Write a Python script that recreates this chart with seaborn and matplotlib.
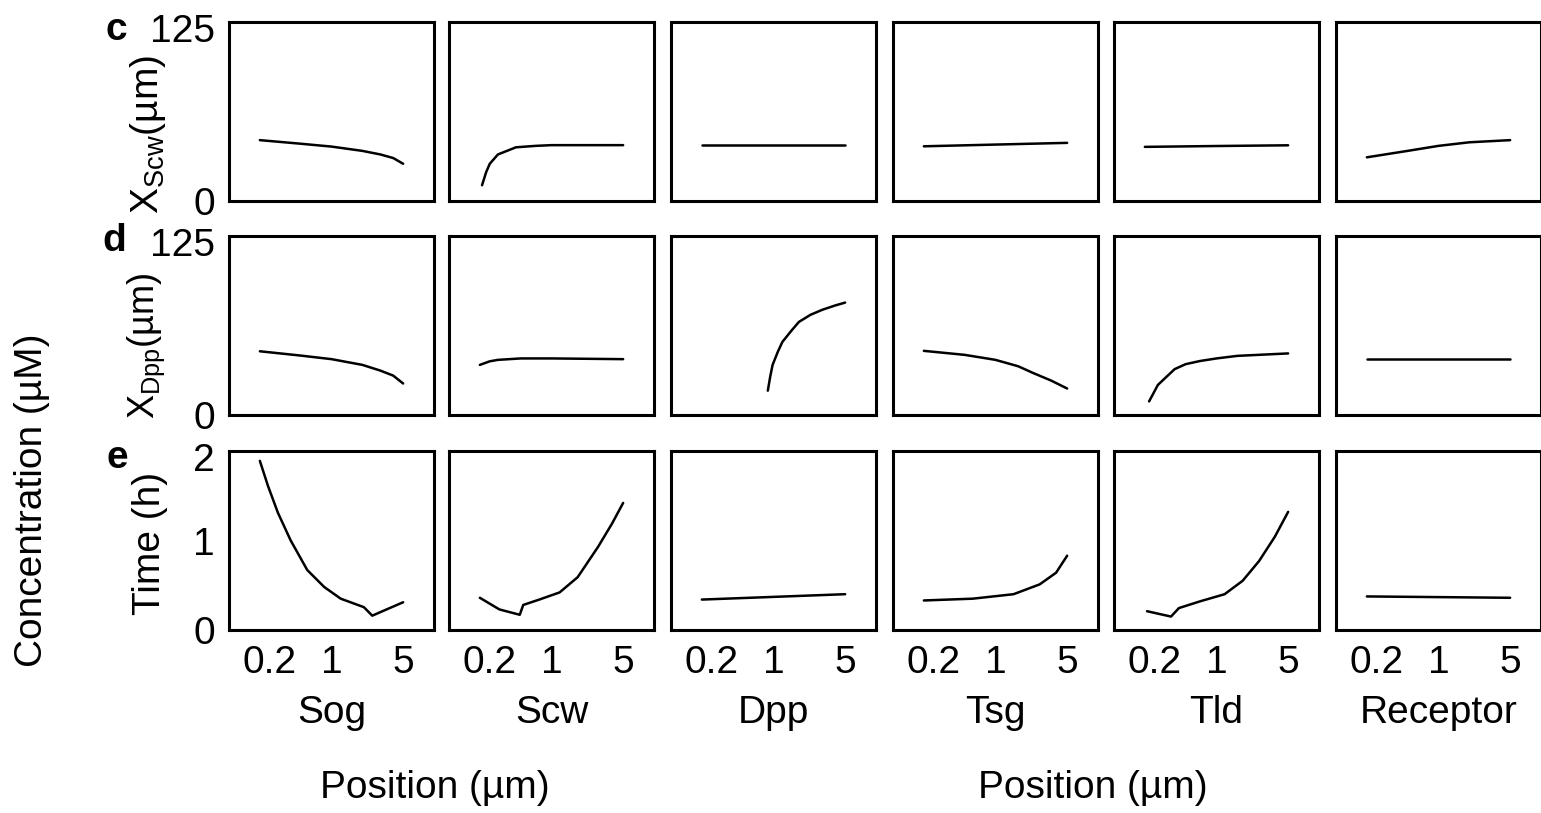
import matplotlib
matplotlib.use('Agg')
import seaborn as sns
from matplotlib import pyplot as plt
from matplotlib.ticker import NullLocator
from matplotlib.transforms import ScaledTranslation

proteins = ['Sog', 'Scw', 'Dpp', 'Tsg', 'Tld', 'Receptor']
row_letters = ['c', 'd', 'e']
row_labels = [r'X$_{\mathrm{Scw}}$(µm)', r'X$_{\mathrm{Dpp}}$(µm)', 'Time (h)']
x_ticks = [0.2, 1, 5]
x_ticklabels = ['0.2', '1', '5']

# row c: X_Scw (um) vs scaling factor
sog_c_x = [0.2, 0.5, 1, 2, 3, 4, 5]
sog_c_y = [42.5, 40, 38, 35, 32.5, 30, 26]
scw_c_x = [0.21, 0.23, 0.25, 0.3, 0.45, 0.7, 1, 2, 5]
scw_c_y = [11, 20, 26, 32.5, 37.5, 38.5, 39, 39, 39]
dpp_c_x = [0.2, 1, 5]
dpp_c_y = [39, 39, 39]
tsg_c_x = [0.2, 1, 5]
tsg_c_y = [38.2, 39.4, 40.6]
tld_c_x = [0.2, 1, 5]
tld_c_y = [37.8, 38.4, 38.9]
rec_c_x = [0.2, 0.5, 1, 2, 5]
rec_c_y = [30.5, 35, 38.5, 41, 42.5]

# row d: X_Dpp (um)
sog_d_x = [0.2, 0.5, 1, 2, 3, 4, 5]
sog_d_y = [44.5, 41.5, 39, 35, 31, 27.5, 22]
scw_d_x = [0.2, 0.25, 0.3, 0.5, 1, 5]
scw_d_y = [35, 37.5, 38.5, 39.5, 39.5, 39]
dpp_d_x = [0.88, 0.93, 0.98, 1.1, 1.22, 1.5, 1.77, 2.3, 3, 4, 5]
dpp_d_y = [17, 27, 35, 44, 51, 59, 65, 70, 73.5, 76.5, 78.5]
tsg_d_x = [0.2, 0.5, 1, 1.67, 2.3, 3.5, 5]
tsg_d_y = [44.8, 42, 38.5, 34, 29.5, 24, 18.5]
tld_d_x = [0.22, 0.268, 0.39, 0.5, 0.69, 1, 1.6, 5]
tld_d_y = [9.5, 21, 32, 35.5, 37.7, 39.5, 41.3, 43]
rec_d_x = [0.2, 5]
rec_d_y = [39, 39]

# row e: time (h)
sog_e_x = [0.2, 0.24, 0.3, 0.4, 0.58, 0.85, 1.23, 2.07, 2.5, 3, 5]
sog_e_y = [1.89, 1.61, 1.31, 1.0, 0.67, 0.48, 0.35, 0.255, 0.16, 0.2, 0.31]
scw_e_x = [0.2, 0.31, 0.49, 0.53, 0.76, 1.2, 1.8, 2.85, 3.9, 5]
scw_e_y = [0.36, 0.23, 0.17, 0.28, 0.34, 0.42, 0.59, 0.93, 1.19, 1.42]
dpp_e_x = [0.2, 5]
dpp_e_y = [0.34, 0.40]
tsg_e_x = [0.2, 0.6, 1.5, 2.7, 3.9, 5]
tsg_e_y = [0.33, 0.35, 0.40, 0.51, 0.64, 0.83]
tld_e_x = [0.21, 0.36, 0.43, 0.69, 1.2, 1.8, 2.6, 3.7, 5]
tld_e_y = [0.21, 0.15, 0.245, 0.32, 0.40, 0.55, 0.77, 1.04, 1.32]
rec_e_x = [0.2, 5]
rec_e_y = [0.375, 0.36]

curves = [
    [(sog_c_x, sog_c_y), (scw_c_x, scw_c_y), (dpp_c_x, dpp_c_y),
     (tsg_c_x, tsg_c_y), (tld_c_x, tld_c_y), (rec_c_x, rec_c_y)],
    [(sog_d_x, sog_d_y), (scw_d_x, scw_d_y), (dpp_d_x, dpp_d_y),
     (tsg_d_x, tsg_d_y), (tld_d_x, tld_d_y), (rec_d_x, rec_d_y)],
    [(sog_e_x, sog_e_y), (scw_e_x, scw_e_y), (dpp_e_x, dpp_e_y),
     (tsg_e_x, tsg_e_y), (tld_e_x, tld_e_y), (rec_e_x, rec_e_y)],
]
y_limits = [(0, 125), (0, 125), (0, 2)]
y_ticks = [[0, 125], [0, 125], [0, 1, 2]]

sns.set_style('white')
plt.rcParams['font.family'] = ['Liberation Sans', 'DejaVu Sans']
plt.rcParams['mathtext.fontset'] = 'custom'
plt.rcParams['mathtext.rm'] = 'Liberation Sans'
plt.rcParams['mathtext.it'] = 'Liberation Sans:italic'
plt.rcParams['text.color'] = 'black'
plt.rcParams['axes.labelcolor'] = 'black'
plt.rcParams['xtick.color'] = 'black'
plt.rcParams['ytick.color'] = 'black'
fs = 28

W, H = 1541, 813
fig = plt.figure(figsize=(W / 100, H / 100), dpi=100)

col_left = [229, 449, 671, 893, 1114, 1336]
row_top = [22, 236, 451]
pw, ph = 205, 179

for r in range(3):
    for c in range(6):
        ax = fig.add_axes([col_left[c] / W, 1 - (row_top[r] + ph) / H, pw / W, ph / H])
        xs, ys = curves[r][c]
        sns.lineplot(x=xs, y=ys, ax=ax, color='black', linewidth=1.8)
        ax.set_xscale('log')
        ax.set_xlim(0.1, 10)
        ax.set_ylim(*y_limits[r])
        ax.xaxis.set_minor_locator(NullLocator())
        ax.set_xticks(x_ticks)
        ax.set_yticks(y_ticks[r])
        ax.tick_params(length=0, labelsize=fs)
        ax.tick_params(axis='x', pad=11)
        ax.tick_params(axis='y', pad=10)
        for sp in ax.spines.values():
            sp.set_color('black')
            sp.set_linewidth(2.2)
        if r == 2:
            ax.set_xticklabels(x_ticklabels)
            # first label sits a bit right of its tick in the original
            lab = ax.get_xticklabels()[0]
            lab.set_transform(lab.get_transform() + ScaledTranslation(0.1, 0, fig.dpi_scale_trans))
            ax.set_xlabel(proteins[c], fontsize=fs, labelpad=10)
        else:
            ax.set_xticklabels([])
        if c == 0:
            ax.set_yticklabels([str(v) for v in y_ticks[r]])
            # top label sits slightly below the frame edge in the original
            top = ax.get_yticklabels()[-1]
            top.set_transform(top.get_transform() + ScaledTranslation(0, -0.06, fig.dpi_scale_trans))
        else:
            ax.set_yticklabels([])

# row letters and y labels
letter_pos = [(116, 30), (114, 241), (117, 458)]
ylab_pos = [(148, 135), (146, 346), (150, 543)]
ylab_size = [fs, 26, fs]
for r in range(3):
    fig.text(letter_pos[r][0] / W, 1 - letter_pos[r][1] / H, row_letters[r],
             fontsize=fs, fontweight='bold', ha='center', va='center')
    fig.text(ylab_pos[r][0] / W, 1 - ylab_pos[r][1] / H, row_labels[r],
             fontsize=ylab_size[r], rotation=90, ha='center', va='center')

fig.text(32 / W, 1 - 500 / H, 'Concentration (µM)', fontsize=fs,
         rotation=90, ha='center', va='center')
fig.text(435 / W, 1 - 788 / H, 'Position (µm)', fontsize=fs, ha='center', va='center')
fig.text(1093 / W, 1 - 788 / H, 'Position (µm)', fontsize=fs, ha='center', va='center')

fig.savefig('out.png', dpi=100)
